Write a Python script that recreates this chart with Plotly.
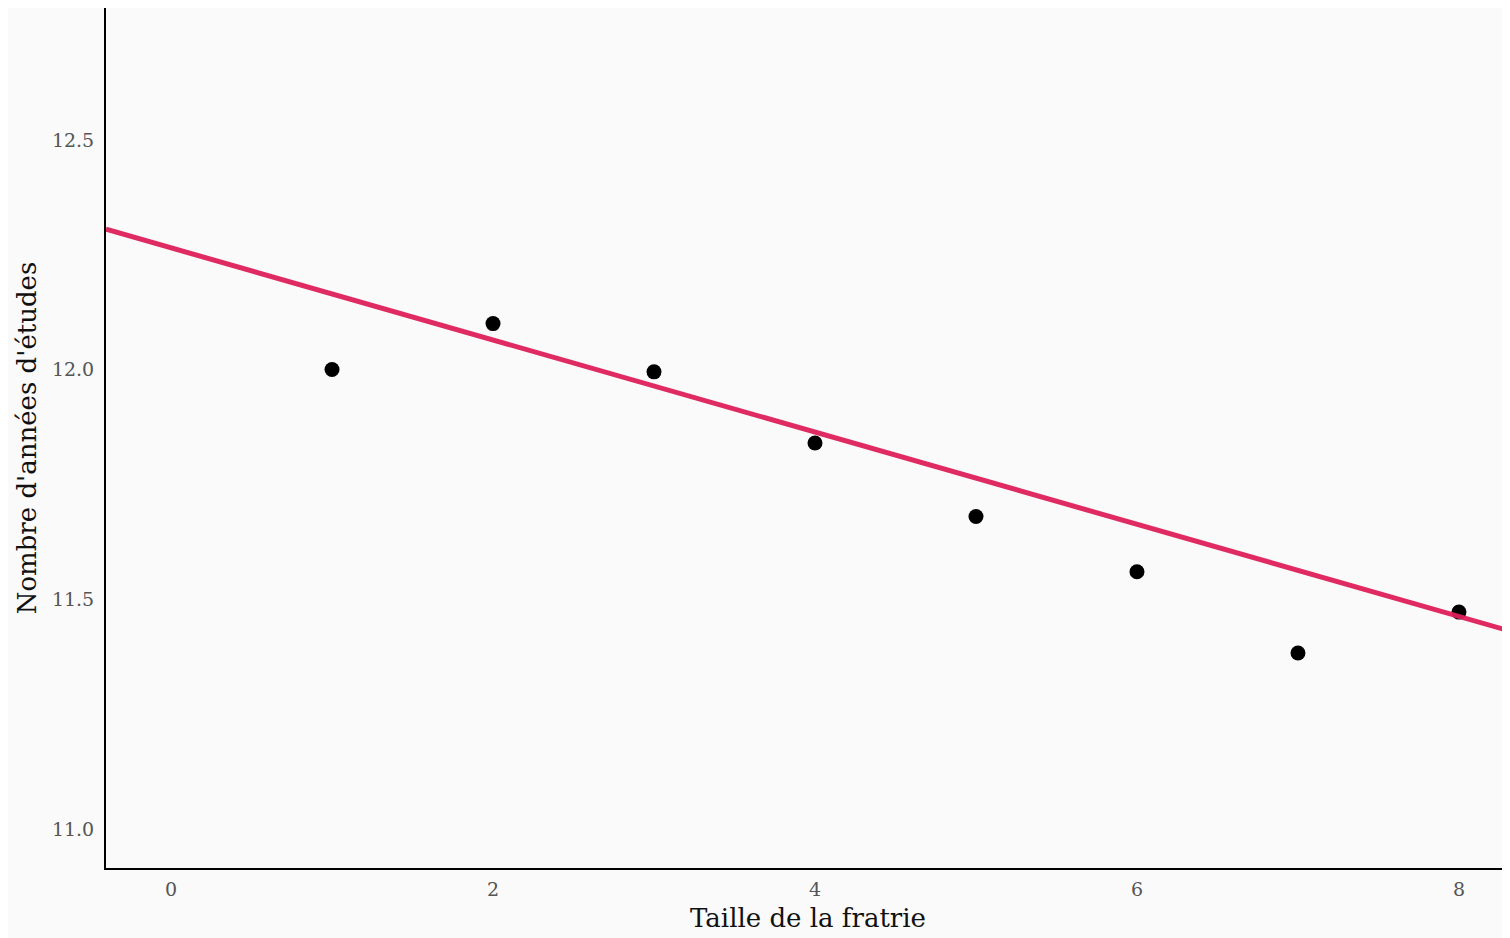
import plotly.graph_objects as go

# Data
sibship_size = [1, 2, 3, 4, 5, 6, 7, 8]
years_of_schooling = [12.00, 12.10, 11.995, 11.84, 11.68, 11.56, 11.383, 11.472]

# Fitted regression line
fit_intercept = 12.265
fit_slope = -0.1003

x_range = [-0.404, 8.317]
y_range = [10.915, 12.787]

x_ticks = [0, 2, 4, 6, 8]
y_ticks = [11.0, 11.5, 12.0, 12.5]

font_family = "Palatino Linotype, Book Antiqua, Palatino, DejaVu Serif, serif"

fig = go.Figure()

fig.add_trace(go.Scatter(
    x=sibship_size, y=years_of_schooling, mode="markers",
    marker=dict(color="black", size=15),
    showlegend=False, hoverinfo="x+y",
))

line_x = x_range
line_y = [fit_intercept + fit_slope * v for v in line_x]
fig.add_trace(go.Scatter(
    x=line_x, y=line_y, mode="lines",
    line=dict(color="#DE1F5A", width=5),
    opacity=0.95,
    showlegend=False, hoverinfo="skip",
))

fig.update_layout(
    width=1502, height=930,
    margin=dict(l=98, r=0, t=0, b=70),
    paper_bgcolor="#FAFAFA", plot_bgcolor="#FAFAFA",
    font=dict(family=font_family, color="#555555", size=20),
)

fig.update_xaxes(
    range=x_range, tickvals=x_ticks, ticktext=[str(v) for v in x_ticks],
    showgrid=False, zeroline=False,
    showline=True, linecolor="black", linewidth=2,
    ticks="", ticklabelstandoff=3,
    tickfont=dict(size=19, color="#555555"),
    title=dict(text="Taille de la fratrie", standoff=10,
               font=dict(size=26, color="#111111")),
)
fig.update_yaxes(
    range=y_range, tickvals=y_ticks, ticktext=[f"{v:.1f}" for v in y_ticks],
    showgrid=False, zeroline=False,
    showline=True, linecolor="black", linewidth=2,
    ticks="", ticklabelstandoff=6,
    tickfont=dict(size=19, color="#555555"),
    title=dict(text="Nombre d'années d'études", standoff=8,
               font=dict(size=26, color="#111111")),
)

fig.write_html("out.html")
